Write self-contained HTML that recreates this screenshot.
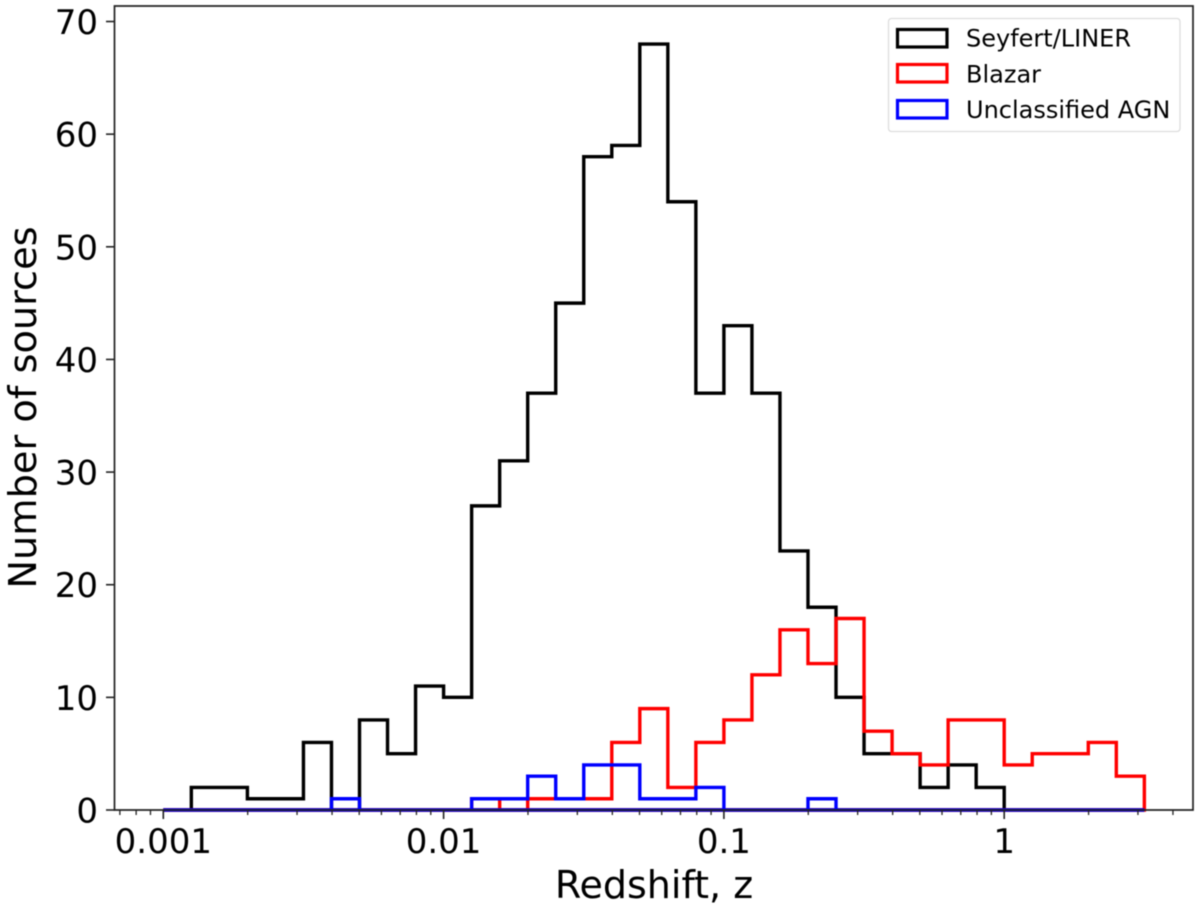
<!DOCTYPE html>
<html>
<head>
<meta charset="utf-8">
<style>
html,body{margin:0;padding:0;background:#fff;}
svg{display:block;filter:blur(0.45px);}
text{font-family:"DejaVu Sans","Liberation Sans",sans-serif;fill:#000;}
</style>
</head>
<body>
<svg id="chart" xmlns="http://www.w3.org/2000/svg" width="1200" height="910" viewBox="0 0 1200 910">
<rect x="0" y="0" width="1200" height="910" fill="#fff"/>
<g id="series"></g>
<path d="M114.5 6H1193V810H114.5Z" fill="none" stroke="#222" stroke-width="1.7"/>
<g id="ticks"></g>
<text x="654" y="898" font-size="38" text-anchor="middle">Redshift, z</text>
<text x="0" y="0" font-size="38.3" text-anchor="middle" transform="translate(36,407.5) rotate(-90)">Number of sources</text>
<g>
<rect x="888.5" y="18.5" width="291.5" height="113" rx="3" fill="#fff" stroke="#ddd" stroke-width="1.3"/>
<rect x="897.5" y="29.5" width="49.5" height="17.5" fill="none" stroke="#000" stroke-width="3.2"/>
<text x="966" y="46.5" font-size="24">Seyfert/LINER</text>
<rect x="897.5" y="64.5" width="49.5" height="17.5" fill="none" stroke="#f00" stroke-width="3.2"/>
<text x="966" y="82.5" font-size="24">Blazar</text>
<rect x="897.5" y="100.5" width="49.5" height="17.5" fill="none" stroke="#00f" stroke-width="3.2"/>
<text x="966" y="118" font-size="24">Unclassified AGN</text>
</g>
</svg>
<script>
var seyfertCounts = [0,2,2,1,1,6,0,8,5,11,10,27,31,37,45,58,59,68,54,37,43,37,23,18,10,5,5,2,4,2,0,0,0,0,0];
var blazarCounts = [0,0,0,0,0,0,0,0,0,0,0,1,0,1,1,1,6,9,2,6,8,12,16,13,17,7,5,4,8,8,4,5,5,6,3];
var unclassifiedCounts = [0,0,0,0,0,0,1,0,0,0,0,1,1,3,1,4,4,1,1,2,0,0,0,1,0,0,0,0,0,0,0,0,0,0,0];
var xTickValues = [0.001,0.01,0.1,1];
var xTickLabels = ["0.001","0.01","0.1","1"];
var xMinorTicks = [0.0007,0.0008,0.0009,0.002,0.003,0.004,0.005,0.006,0.007,0.008,0.009,0.02,0.03,0.04,0.05,0.06,0.07,0.08,0.09,0.2,0.3,0.4,0.5,0.6,0.7,0.8,0.9,2,3,4];
var yTickValues = [0,10,20,30,40,50,60,70];
var binStartLog = -3;
var binsPerDecade = 10;

var NS = 'http://www.w3.org/2000/svg';
function xScale(z){ return 163.3 + 280.3 * (Math.log10(z) + 3); }
function yScale(v){ return 810 - 11.264 * v; }
function binEdge(i){ return Math.pow(10, binStartLog + i / binsPerDecade); }
function stepPath(counts){
  var d = 'M' + xScale(binEdge(0)).toFixed(2) + ' ' + yScale(0).toFixed(2);
  for (var i = 0; i < counts.length; i++) {
    d += 'L' + xScale(binEdge(i)).toFixed(2) + ' ' + yScale(counts[i]).toFixed(2);
    d += 'L' + xScale(binEdge(i + 1)).toFixed(2) + ' ' + yScale(counts[i]).toFixed(2);
  }
  d += 'L' + xScale(binEdge(counts.length)).toFixed(2) + ' ' + yScale(0).toFixed(2) + 'Z';
  return d;
}
var seriesG = document.getElementById('series');
var ticksG = document.getElementById('ticks');

var seyfertPath = document.createElementNS(NS, 'path');


seyfertPath.setAttribute('d', stepPath(seyfertCounts));
seyfertPath.setAttribute('fill', 'none');
seyfertPath.setAttribute('stroke', '#000');
seyfertPath.setAttribute('stroke-width', '3.4');
seyfertPath.setAttribute('stroke-linejoin', 'miter');
seriesG.appendChild(seyfertPath);

var blazarPath = document.createElementNS(NS, 'path');


blazarPath.setAttribute('d', stepPath(blazarCounts));
blazarPath.setAttribute('fill', 'none');
blazarPath.setAttribute('stroke', '#f00');
blazarPath.setAttribute('stroke-width', '3.4');
blazarPath.setAttribute('stroke-linejoin', 'miter');
seriesG.appendChild(blazarPath);

var unclassifiedPath = document.createElementNS(NS, 'path');


unclassifiedPath.setAttribute('d', stepPath(unclassifiedCounts));
unclassifiedPath.setAttribute('fill', 'none');
unclassifiedPath.setAttribute('stroke', '#00f');
unclassifiedPath.setAttribute('stroke-width', '3.4');
unclassifiedPath.setAttribute('stroke-linejoin', 'miter');
seriesG.appendChild(unclassifiedPath);

xMinorTicks.forEach(function(z){
  var t = document.createElementNS(NS, 'line');
  
  
  t.setAttribute('x1', xScale(z));
  t.setAttribute('x2', xScale(z));
  t.setAttribute('y1', 810);
  t.setAttribute('y2', 815);
  t.setAttribute('stroke', '#222');
  t.setAttribute('stroke-width', '1.3');
  ticksG.appendChild(t);
});
xTickValues.forEach(function(z, i){
  var t = document.createElementNS(NS, 'line');
  
  
  t.setAttribute('x1', xScale(z));
  t.setAttribute('x2', xScale(z));
  t.setAttribute('y1', 810);
  t.setAttribute('y2', 819);
  t.setAttribute('stroke', '#222');
  t.setAttribute('stroke-width', '1.6');
  ticksG.appendChild(t);
  var l = document.createElementNS(NS, 'text');
  
  
  l.setAttribute('x', xScale(z));
  l.setAttribute('y', 853);
  l.setAttribute('font-size', '34');
  l.setAttribute('text-anchor', 'middle');
  l.textContent = xTickLabels[i];
  ticksG.appendChild(l);
});
yTickValues.forEach(function(v){
  var t = document.createElementNS(NS, 'line');
  
  
  t.setAttribute('x1', 106);
  t.setAttribute('x2', 114.5);
  t.setAttribute('y1', yScale(v));
  t.setAttribute('y2', yScale(v));
  t.setAttribute('stroke', '#222');
  t.setAttribute('stroke-width', '1.6');
  ticksG.appendChild(t);
  var l = document.createElementNS(NS, 'text');
  
  
  l.setAttribute('x', 98);
  l.setAttribute('y', yScale(v) + 12.5);
  l.setAttribute('font-size', '34');
  l.setAttribute('text-anchor', 'end');
  l.textContent = String(v);
  ticksG.appendChild(l);
});
</script>
</body>
</html>
